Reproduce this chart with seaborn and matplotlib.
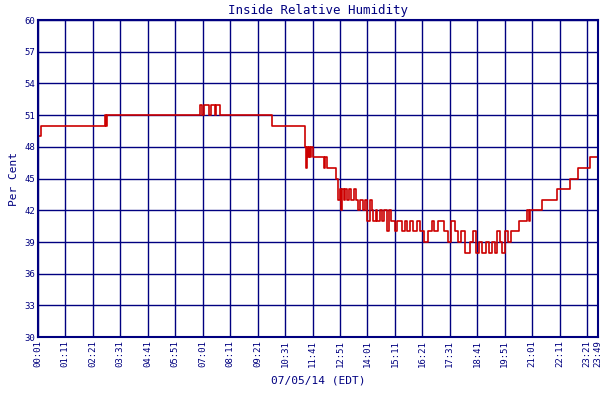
import matplotlib
matplotlib.use("Agg")
import matplotlib.pyplot as plt
import seaborn as sns
import pandas as pd

# minutes of day and humidity (%) change points
minutes = [1, 9, 172, 175, 178, 414, 420, 424, 438, 442, 452, 456, 466, 598,
           681, 684, 686, 689, 692, 695, 698, 702, 706, 730, 733, 737, 745, 760, 765,
           770, 773, 776, 780, 784, 790, 795, 800, 806, 812, 818, 821, 830, 835, 840, 847,
           852, 856, 862, 866, 872, 878, 884, 890, 896, 902, 910, 916, 923,
           930, 936, 942, 950, 958, 966, 974, 985, 995, 1005, 1010, 1020, 1035, 1045, 1055, 1063,
           1072, 1080, 1090, 1102, 1110, 1118, 1126, 1134, 1142, 1150, 1158, 1166, 1172, 1178,
           1185, 1192, 1200, 1208, 1216, 1228, 1242, 1248, 1252, 1255, 1285, 1323, 1357, 1377, 1390, 1408, 1429]
humidity = [49, 50, 51, 50, 51, 52, 51, 52, 51, 52, 51, 52, 51, 50,
            48, 46, 48, 47, 48, 47, 48, 47, 47, 46, 47, 46, 46, 45, 43,
            44, 42, 44, 43, 44, 43, 44, 43, 44, 43, 42, 43, 42, 43, 41, 43,
            42, 41, 42, 41, 42, 41, 42, 40, 42, 41, 40, 41, 41,
            40, 41, 40, 41, 40, 41, 40, 39, 40, 41, 40, 41, 40, 39, 41, 40,
            39, 40, 38, 39, 40, 38, 39, 38, 39, 38, 39, 38, 40, 39,
            38, 40, 39, 40, 40, 41, 41, 42, 41, 42, 43, 44, 45, 46, 46, 47, 47]
tick_minutes = [1 + 70 * k for k in range(21)] + [1429]
tick_labels = ["00:01", "01:11", "02:21", "03:31", "04:41", "05:51", "07:01", "08:11", "09:21",
               "10:31", "11:41", "12:51", "14:01", "15:11", "16:21", "17:31", "18:41", "19:51",
               "21:01", "22:11", "23:21", "23:49"]
y_ticks = list(range(30, 61, 3))

navy = "#000080"
sns.set_style("white")
plt.rcParams["font.family"] = ["DejaVu Sans Mono"]
df = pd.DataFrame({"t": minutes, "h": humidity})

fig = plt.figure(figsize=(6, 4), dpi=100)
ax = fig.add_axes([0.063, 0.157, 0.934, 0.793])
sns.lineplot(data=df, x="t", y="h", ax=ax, color="#cc0000", lw=1.2,
             drawstyle="steps-post", estimator=None, label="Relative Humidity")
ax.set_xlim(1, 1429)
ax.set_ylim(30, 60)
ax.set_xticks(tick_minutes)
ax.set_xticklabels(tick_labels, rotation=90, fontsize=6.5, color=navy)
ax.set_yticks(y_ticks)
ax.set_yticklabels([str(v) for v in y_ticks], fontsize=6.5, color=navy)
ax.grid(True, color=navy, lw=1)
for s in ax.spines.values():
    s.set_color(navy)
    s.set_linewidth(1.5)
ax.tick_params(length=0, pad=2)
ax.set_title("Inside Relative Humidity", color=navy, fontsize=9, pad=4)
ax.set_xlabel("07/05/14 (EDT)", color=navy, fontsize=8, labelpad=6)
ax.set_ylabel("Per Cent", color=navy, fontsize=8, labelpad=4)
leg = ax.legend(loc="upper center", bbox_to_anchor=(0.5, -0.2), frameon=False,
                fontsize=6.5, handlelength=1.5, handletextpad=0.3)
for t in leg.get_texts():
    t.set_color(navy)
fig.savefig("out.png", dpi=100, facecolor="white")
